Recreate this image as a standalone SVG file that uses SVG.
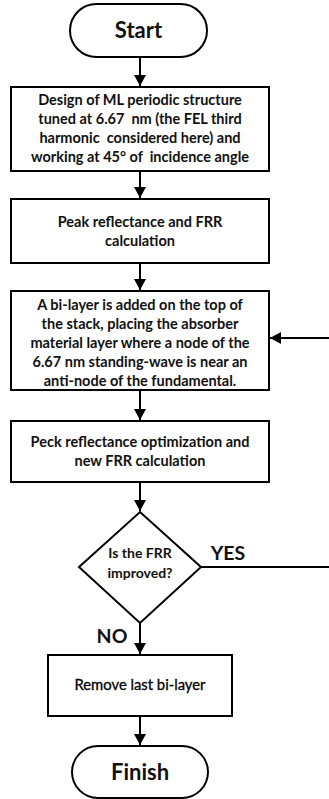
<svg xmlns="http://www.w3.org/2000/svg" width="329" height="799" viewBox="0 0 329 799">
<defs>
<marker id="ah" markerUnits="userSpaceOnUse" markerWidth="14" markerHeight="12" refX="11" refY="6" orient="auto">
<path d="M0,0 L11,6 L0,12 Z" fill="#000"/>
</marker>
<style>
.shape{fill:#fff;stroke:#000;stroke-width:2}
.conn{fill:none;stroke:#000;stroke-width:2}
text{font-family:Lato,"Liberation Sans",sans-serif;fill:#111;text-anchor:middle;white-space:pre}
.t{font-size:14.5px;font-weight:bold}
.term{font-size:22px;font-weight:bold}
.lbl{font-size:19.5px;font-weight:bold}
.dt{font-size:14px;font-weight:bold}
.rt{font-size:14.8px;font-weight:normal;fill:#000;stroke:#000;stroke-width:0.3}
</style>
</defs>
<rect width="329" height="799" fill="#fff"/>
<g id="connectors">
<path class="conn" d="M140,57 V86" marker-end="url(#ah)"/>
<path class="conn" d="M140,171 V198" marker-end="url(#ah)"/>
<path class="conn" d="M140,263 V290" marker-end="url(#ah)"/>
<path class="conn" d="M140,390 V420" marker-end="url(#ah)"/>
<path class="conn" d="M140,482 V511" marker-end="url(#ah)"/>
<path class="conn" d="M140,623 V654" marker-end="url(#ah)"/>
<path class="conn" d="M140,716 V745" marker-end="url(#ah)"/>
<path class="conn" d="M201,567 H332 V338 H270" marker-end="url(#ah)"/>
</g>
<g id="start">
<rect class="shape" x="70" y="4" width="137" height="53" rx="26.5"/>
<text class="term" x="138.5" y="38">Start</text>
</g>
<g id="design">
<rect class="shape" x="11" y="87" width="258" height="84"/>
<text class="t" x="140" y="105">Design of ML periodic structure</text>
<text class="t" x="140" y="124" xml:space="preserve">tuned at 6.67  nm (the FEL third</text>
<text class="t" x="140" y="143" xml:space="preserve">harmonic  considered here) and</text>
<text class="t" x="140" y="162" xml:space="preserve">working at 45° of  incidence angle</text>
</g>
<g id="peak">
<rect class="shape" x="11" y="199" width="258" height="64"/>
<text class="t" x="140" y="227">Peak reflectance and FRR</text>
<text class="t" x="140" y="246">calculation</text>
</g>
<g id="bilayer">
<rect class="shape" x="11" y="291" width="258" height="99"/>
<text class="t" x="140" y="310">A bi-layer is added on the top of</text>
<text class="t" x="140" y="329">the stack, placing the absorber</text>
<text class="t" x="140" y="348">material layer where a node of the</text>
<text class="t" x="140" y="367">6.67 nm standing-wave is near an</text>
<text class="t" x="140" y="386">anti-node of the fundamental.</text>
</g>
<g id="optimize">
<rect class="shape" x="11" y="421" width="258" height="61"/>
<text class="t" x="140" y="447">Peck reflectance optimization and</text>
<text class="t" x="140" y="466">new FRR calculation</text>
</g>
<g id="decision">
<polygon class="shape" points="140,512 201,567 140,623 79,567"/>
<text class="dt" x="140" y="558">Is the FRR</text>
<text class="dt" x="140" y="578">improved?</text>
</g>
<g id="labels">
<text class="lbl" x="228" y="560">YES</text>
<text class="lbl" x="112" y="643">NO</text>
</g>
<g id="remove">
<rect class="shape" x="48" y="655" width="184" height="61"/>
<text class="rt" x="140" y="690">Remove last bi-layer</text>
</g>
<g id="finish">
<rect class="shape" x="72" y="746" width="136" height="52" rx="26"/>
<text class="term" x="140" y="780">Finish</text>
</g>
</svg>
